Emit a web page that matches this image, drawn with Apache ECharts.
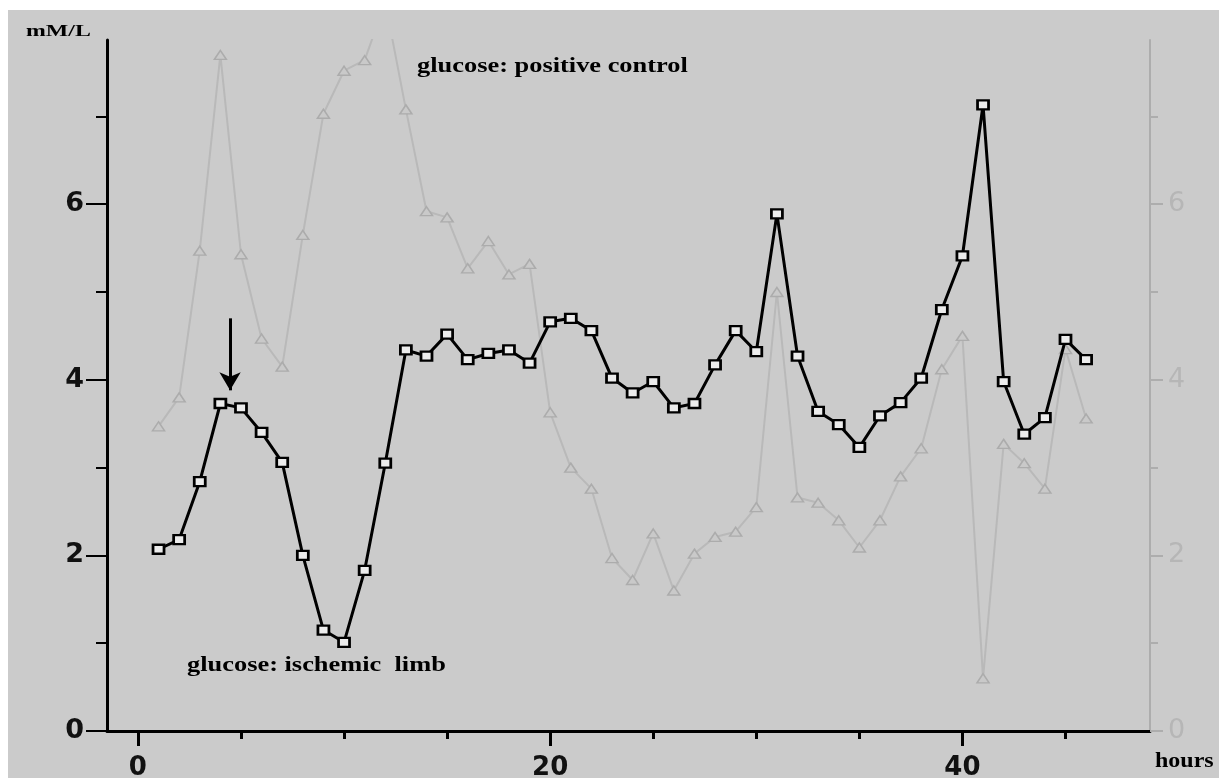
<!DOCTYPE html>
<html>
<head>
<meta charset="utf-8">
<script src="https://cdn.jsdelivr.net/npm/echarts@6/dist/echarts.min.js"></script>
<style>
html,body{margin:0;padding:0;background:#ffffff;width:1219px;height:778px;overflow:hidden;}
#c{position:absolute;left:8px;top:10px;width:1211px;height:768px;background:#cbcbcb;}
</style>
</head>
<body>
<div id="c"></div>
<script>
// hours of sampling
const hours = [1,2,3,4,5,6,7,8,9,10,11,12,13,14,15,16,17,18,19,20,21,22,23,24,25,26,27,28,29,30,31,32,33,34,35,36,37,38,39,40,41,42,43,44,45,46];
// glucose: ischemic limb (mM/L)
const ischemicLimb = [2.07,2.18,2.84,3.73,3.68,3.40,3.06,2.00,1.15,1.01,1.83,3.05,4.34,4.27,4.52,4.23,4.30,4.34,4.19,4.66,4.70,4.56,4.02,3.85,3.98,3.68,3.73,4.17,4.56,4.32,5.89,4.27,3.64,3.49,3.23,3.59,3.74,4.02,4.80,5.41,7.13,3.98,3.38,3.57,4.46,4.23];
// glucose: positive control (mM/L)
const positiveControl = [3.47,3.80,5.47,7.70,5.43,4.47,4.15,5.65,7.03,7.52,7.64,8.30,7.08,5.92,5.85,5.27,5.58,5.20,5.32,3.63,3.00,2.76,1.97,1.72,2.25,1.60,2.02,2.21,2.27,2.55,5.00,2.66,2.60,2.40,2.09,2.40,2.90,3.22,4.12,4.50,0.60,3.27,3.05,2.76,4.35,3.56];
// tick values
const xMajorTicks = [0,20,40];
const xMinorTicks = [5,10,15,25,30,35,45];
const yMajorTicks = [0,2,4,6];
const yMinorTicks = [1,3,5,7];
// arrow annotation: [hour, from value, to value]
const arrowMark = [4.47, 4.70, 3.88];

const X_MIN = -1.5, X_MAX = 49.1, Y_MIN = 0, Y_MAX = 7.87;

const chart = echarts.init(document.getElementById('c'), null, {renderer:'canvas'});

const pair = (xs, ys) => xs.map((x, i) => [x, ys[i]]);

const tickFont = '"DejaVu Sans", sans-serif';

const option = {
  animation: false,
  backgroundColor: 'transparent',
  grid: {left: 99, right: 69, top: 30, bottom: 47, containLabel: false, outerBoundsMode: 'none'},
  xAxis: [
    {
      type: 'value', min: X_MIN, max: X_MAX, position: 'bottom',
      axisLine: {show: true, onZero: false, lineStyle: {color: '#000', width: 3}},
      axisTick: {show: true, customValues: xMajorTicks, length: 15, lineStyle: {color: '#000', width: 3}},
      axisLabel: {show: true, customValues: xMajorTicks, margin: 24, color: '#111', fontFamily: tickFont, fontWeight: 'bold', fontSize: 26},
      splitLine: {show: false}
    },
    {
      type: 'value', min: X_MIN, max: X_MAX, position: 'bottom', offset: 0,
      axisLine: {show: false, onZero: false},
      axisTick: {show: true, customValues: xMinorTicks, length: 8, lineStyle: {color: '#000', width: 3}},
      axisLabel: {show: false},
      splitLine: {show: false}
    }
  ],
  yAxis: [
    {
      type: 'value', min: Y_MIN, max: Y_MAX, position: 'left',
      axisLine: {show: true, onZero: false, lineStyle: {color: '#000', width: 3}},
      axisTick: {show: true, customValues: yMajorTicks, length: 21, lineStyle: {color: '#000', width: 2}},
      axisLabel: {show: true, customValues: yMajorTicks, margin: 23, color: '#111', fontFamily: tickFont, fontWeight: 'bold', fontSize: 27},
      splitLine: {show: false}
    },
    {
      type: 'value', min: Y_MIN, max: Y_MAX, position: 'left', offset: 0,
      axisLine: {show: false, onZero: false},
      axisTick: {show: true, customValues: yMinorTicks, length: 11, lineStyle: {color: '#000', width: 2}},
      axisLabel: {show: false},
      splitLine: {show: false}
    },
    {
      type: 'value', min: Y_MIN, max: Y_MAX, position: 'right', offset: 0,
      axisLine: {show: true, onZero: false, lineStyle: {color: '#adadad', width: 2}},
      axisTick: {show: true, customValues: yMajorTicks, length: 13, lineStyle: {color: '#adadad', width: 2}},
      axisLabel: {show: true, customValues: yMajorTicks, margin: 18, color: '#b6b6b6', fontFamily: tickFont, fontSize: 27},
      splitLine: {show: false}
    },
    {
      type: 'value', min: Y_MIN, max: Y_MAX, position: 'right', offset: 0,
      axisLine: {show: false, onZero: false},
      axisTick: {show: true, customValues: yMinorTicks, length: 8, lineStyle: {color: '#adadad', width: 2}},
      axisLabel: {show: false},
      splitLine: {show: false}
    }
  ],
  series: [
    {
      name: 'glucose: positive control',
      type: 'line',
      xAxisIndex: 0, yAxisIndex: 2,
      data: pair(hours, positiveControl),
      clip: true,
      showAllSymbol: true,
      symbol: 'triangle',
      symbolSize: [12, 9],
      z: 2,
      lineStyle: {color: '#b9b9b9', width: 2},
      itemStyle: {color: '#c9c9c9', borderColor: '#acacac', borderWidth: 1.5}
    },
    {
      name: 'glucose: ischemic limb',
      type: 'line',
      xAxisIndex: 0, yAxisIndex: 0,
      data: pair(hours, ischemicLimb),
      clip: true,
      showAllSymbol: true,
      symbol: 'rect',
      symbolSize: [11, 9],
      z: 3,
      lineStyle: {color: '#000', width: 3},
      itemStyle: {color: '#ececec', borderColor: '#000', borderWidth: 2.5},
      markLine: {
        silent: true,
        symbol: ['none', 'arrow'],
        symbolSize: [16, 18],
        label: {show: false},
        lineStyle: {color: '#000', width: 3, type: 'solid'},
        data: [[{coord: [arrowMark[0], arrowMark[1]]}, {coord: [arrowMark[0], arrowMark[2]]}]]
      }
    }
  ],
  graphic: [
    {type: 'text', x: 18, y: 22, scaleX: 1.4, z: 10,
     style: {text: 'mM/L', font: 'bold 17px "Liberation Serif", serif', fill: '#000', verticalAlign: 'middle', align: 'left'}},
    {type: 'text', x: 409, y: 56, scaleX: 1.2, z: 10,
     style: {text: 'glucose: positive control', font: 'bold 22px "Liberation Serif", serif', fill: '#000', verticalAlign: 'middle', align: 'left'}},
    {type: 'text', x: 179, y: 655, scaleX: 1.2, z: 10,
     style: {text: 'glucose: ischemic  limb', font: 'bold 22px "Liberation Serif", serif', fill: '#000', verticalAlign: 'middle', align: 'left'}},
    {type: 'text', x: 1147, y: 752, scaleX: 1.2, z: 10,
     style: {text: 'hours', font: 'bold 20px "Liberation Serif", serif', fill: '#000', verticalAlign: 'middle', align: 'left'}}
  ]
};
chart.setOption(option);
</script>
</body>
</html>
